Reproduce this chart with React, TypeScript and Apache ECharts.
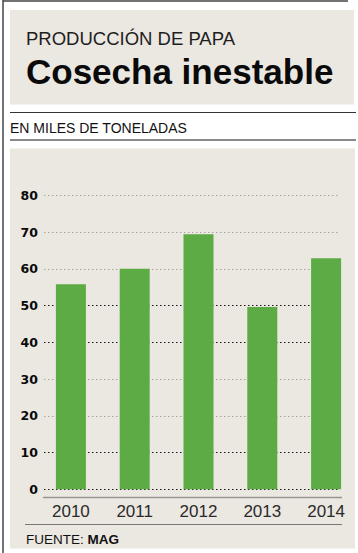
import React, { useEffect, useRef } from "react";
import * as echarts from "echarts";

const years = ["2010", "2011", "2012", "2013", "2014"];
const production = [55.8, 60, 69.4, 49.6, 62.9];
const yTicks = [0, 10, 20, 30, 40, 50, 60, 70, 80];
const gridColors = ["#1a1a1a", "#1a1a1a", "#aaa6a0", "#aaa6a0", "#1a1a1a", "#1a1a1a", "#aaa6a0", "#aaa6a0", "#aaa6a0"];

const kicker = "PRODUCCIÓN DE PAPA";
const title = "Cosecha inestable";
const unit = "EN MILES DE TONELADAS";

const BEIGE = "#ebe7e1";
const GREEN = "#5dab45";

export default function App() {
  const ref = useRef<HTMLDivElement>(null);
  useEffect(() => {
    if (!ref.current) return;
    const chart = echarts.init(ref.current, null, { renderer: "svg" });
    const top = 195.3;
    const height = 294;
    chart.setOption({
      animation: false,
      backgroundColor: "#ffffff",
      grid: [
        { left: 44, width: 295, top, height },
        { left: 39, width: 320, top, height },
      ],
      xAxis: [
        { gridIndex: 0, type: "value", min: 0, max: 1, show: false },
        {
          gridIndex: 1,
          type: "category",
          data: years,
          axisLine: { show: false },
          axisTick: { show: false },
          axisLabel: {
            margin: 14,
            fontSize: 17,
            color: "#2a2a2a",
            fontFamily: "Liberation Sans",
          },
        },
      ],
      yAxis: [
        {
          gridIndex: 0,
          type: "value",
          min: yTicks[0],
          max: yTicks[yTicks.length - 1],
          interval: 10,
          axisLine: { show: false },
          axisTick: { show: false },
          axisLabel: {
            margin: 6,
            fontSize: 12.5,
            fontWeight: "bold",
            color: "#0a0a0a",
            fontFamily: "DejaVu Sans",
          },
          splitLine: {
            show: true,
            lineStyle: { color: gridColors, width: 1, type: [1.5, 2.5] },
          },
        },
        {
          gridIndex: 1,
          type: "value",
          min: yTicks[0],
          max: yTicks[yTicks.length - 1],
          interval: 10,
          show: false,
          splitLine: { show: false },
        },
      ],
      series: [
        {
          type: "bar",
          xAxisIndex: 1,
          yAxisIndex: 1,
          data: production,
          barWidth: 30,
          itemStyle: { color: GREEN },
          z: 5,
        },
      ],
      graphic: [
        { type: "rect", z: -10, shape: { x: 10, y: 10, width: 344, height: 94.5 }, style: { fill: BEIGE } },
        { type: "rect", z: -10, shape: { x: 10, y: 148.5, width: 345, height: 400 }, style: { fill: BEIGE } },
        { type: "line", shape: { x1: 3, y1: 0, x2: 3, y2: 553 }, style: { stroke: "#444", lineWidth: 1.5 } },
        { type: "line", shape: { x1: 3, y1: 1, x2: 348, y2: 1 }, style: { stroke: "#444", lineWidth: 1.5 } },
        { type: "line", shape: { x1: 10, y1: 112.5, x2: 356, y2: 112.5 }, style: { stroke: "#333", lineWidth: 1.2 } },
        { type: "line", shape: { x1: 10, y1: 140, x2: 356, y2: 140 }, style: { stroke: "#8a8a8a", lineWidth: 2 } },
        { type: "line", shape: { x1: 43, y1: 497.5, x2: 342, y2: 497.5 }, style: { stroke: "#9a9691", lineWidth: 1.5 } },
        { type: "line", shape: { x1: 25, y1: 524.5, x2: 342, y2: 524.5 }, style: { stroke: "#7a7671", lineWidth: 1.2 } },
        {
          type: "text",
          x: 26,
          y: 38,
          style: {
            text: kicker,
            fontSize: 18.5,
            fontFamily: "Liberation Sans",
            fill: "#1e1e1e",
            verticalAlign: "middle",
          },
        },
        {
          type: "text",
          x: 26,
          y: 71,
          style: {
            text: title,
            fontSize: 35,
            fontWeight: "bold",
            fontFamily: "Liberation Sans",
            fill: "#0a0a0a",
            verticalAlign: "middle",
          },
        },
        {
          type: "text",
          x: 10,
          y: 128,
          style: {
            text: unit,
            fontSize: 14,
            fontFamily: "Liberation Sans",
            fill: "#111",
            verticalAlign: "middle",
          },
        },
        {
          type: "text",
          x: 26,
          y: 539,
          style: {
            text: "{a|FUENTE: }{b|MAG}",
            verticalAlign: "middle",
            rich: {
              a: { fontSize: 13.5, fontFamily: "Liberation Sans", fill: "#111", color: "#111" },
              b: { fontSize: 13.5, fontFamily: "Liberation Sans", fontWeight: "bold", fill: "#111", color: "#111" },
            },
          },
        },
      ],
    });
    return () => chart.dispose();
  }, []);
  return (
    <div
      ref={ref}
      style={{ position: "fixed", left: 0, top: 0, width: 358, height: 553 }}
    />
  );
}
